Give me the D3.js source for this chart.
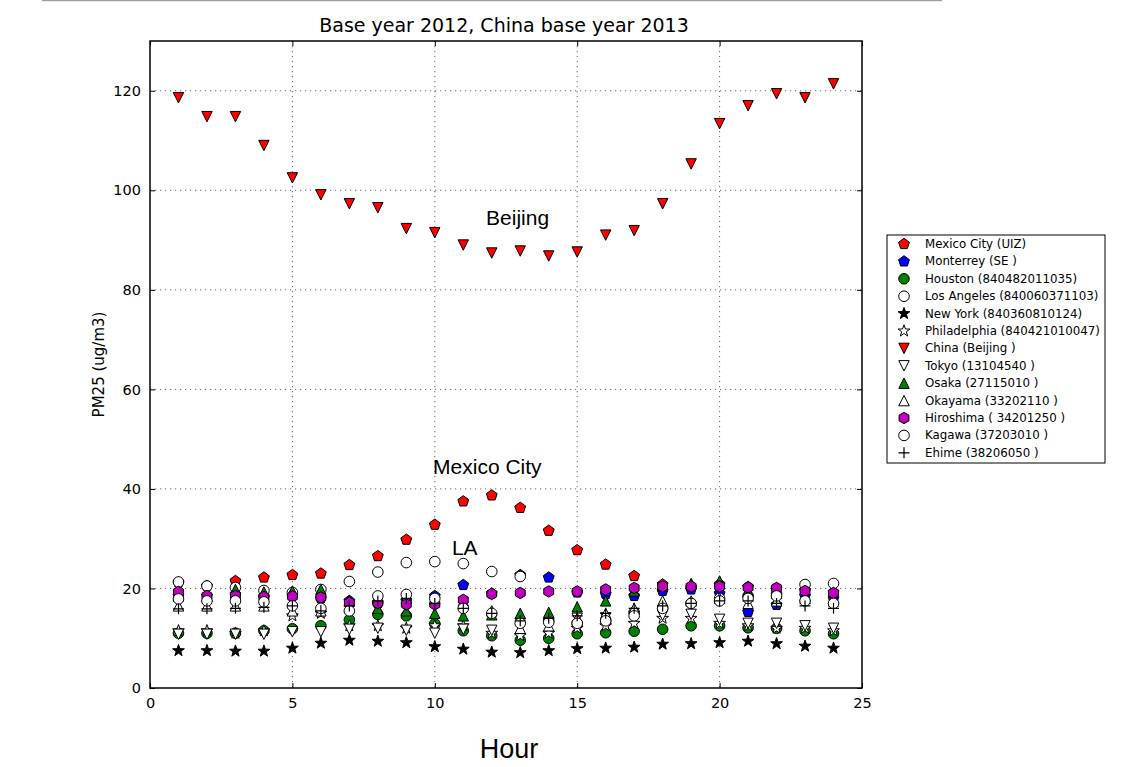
<!DOCTYPE html>
<html>
<head>
<meta charset="utf-8">
<script src="https://cdnjs.cloudflare.com/ajax/libs/d3/7.8.5/d3.min.js"></script>
<style>
  body { margin: 0; background: #fff; }
  svg text { font-family: "DejaVu Sans", sans-serif; fill: #000; }
</style>
</head>
<body>
<svg id="chart" width="1132" height="767"></svg>
<script>
// ---------- data ----------
const hours = [1, 2, 3, 4, 5, 6, 7, 8, 9, 10, 11, 12, 13, 14, 15, 16, 17, 18, 19, 20, 21, 22, 23, 24];

const mexicoCity   = [21.2, 20.5, 21.5, 22.2, 22.7, 23.0, 24.7, 26.5, 29.8, 32.8, 37.5, 38.7, 36.2, 31.6, 27.7, 24.8, 22.5, 20.8, 20.2, 20.8, 20.3, 20.0, 19.6, 19.2];
const monterrey    = [18.5, 18.5, 18.8, 18.3, 18.5, 18.0, 17.5, 17.0, 17.5, 18.5, 20.7, 19.0, 22.7, 22.2, 19.2, 18.9, 18.5, 19.5, 19.8, 19.0, 15.3, 16.7, 18.5, 18.0];
const houston      = [11.0, 11.0, 11.0, 11.5, 11.9, 12.5, 13.7, 14.8, 14.5, 12.9, 11.5, 10.5, 9.6, 10.0, 10.9, 11.1, 11.4, 11.8, 12.5, 12.5, 12.1, 12.0, 11.5, 10.9];
const losAngeles   = [21.3, 20.5, 20.2, 19.6, 19.2, 19.8, 21.4, 23.3, 25.2, 25.4, 25.0, 23.4, 22.4, 13.5, 13.0, 13.5, 15.2, 16.0, 17.0, 18.0, 18.5, 19.0, 20.8, 21.0];
const newYork      = [7.5, 7.5, 7.4, 7.4, 8.0, 9.0, 9.6, 9.4, 9.1, 8.3, 7.8, 7.2, 7.1, 7.5, 7.9, 8.0, 8.2, 8.8, 8.9, 9.1, 9.4, 8.9, 8.4, 8.0];
const philadelphia = [11.5, 11.5, 11.0, 11.5, 14.5, 15.0, 12.5, 12.5, 12.0, 12.5, 12.5, 11.0, 10.5, 11.0, 12.0, 12.5, 13.0, 14.0, 14.0, 13.0, 12.5, 12.0, 12.0, 11.5];
const beijing      = [118.6, 114.8, 114.8, 109.0, 102.5, 99.1, 97.3, 96.5, 92.3, 91.5, 89.0, 87.4, 87.8, 86.8, 87.6, 91.0, 91.9, 97.3, 105.3, 113.4, 117.0, 119.4, 118.6, 121.4];
const tokyo        = [10.8, 10.8, 10.8, 10.8, 11.3, 11.3, 11.8, 12.0, 11.6, 11.0, 11.8, 11.6, 13.0, 13.0, 14.0, 14.1, 14.4, 14.6, 14.8, 13.8, 13.0, 13.0, 12.5, 12.0];
const osaka        = [18.5, 18.5, 19.8, 19.3, 19.5, 19.8, 17.5, 16.0, 15.5, 15.0, 14.5, 14.7, 15.0, 15.2, 16.3, 17.5, 19.5, 20.5, 21.0, 21.5, 19.5, 19.0, 18.5, 18.0];
const okayama      = [16.5, 16.5, 16.5, 16.5, 15.5, 15.5, 17.5, 18.0, 18.0, 17.8, 17.5, 15.5, 12.0, 12.5, 14.0, 15.0, 16.0, 17.5, 17.5, 18.0, 17.0, 17.5, 18.0, 17.5];
const hiroshima    = [19.3, 18.5, 18.5, 18.3, 18.4, 18.2, 17.1, 17.1, 16.8, 16.8, 17.7, 18.9, 19.1, 19.4, 19.4, 19.8, 20.1, 20.4, 20.4, 20.4, 20.2, 20.1, 19.5, 19.1];
const kagawa       = [17.9, 17.5, 17.5, 17.3, 16.5, 16.0, 15.5, 18.5, 18.8, 18.0, 16.0, 15.0, 13.0, 13.2, 13.0, 13.5, 14.5, 16.0, 17.0, 17.5, 18.0, 18.5, 17.5, 17.0];
const ehime        = [15.9, 15.9, 16.0, 16.2, 16.5, 15.5, 16.5, 17.5, 18.0, 17.0, 16.0, 15.0, 13.5, 14.0, 14.5, 15.0, 16.0, 16.5, 17.0, 17.5, 17.5, 17.0, 16.5, 16.0];

const seriesLabels = [
  'Mexico City (UIZ)', 'Monterrey (SE )', 'Houston (840482011035)', 'Los Angeles (840060371103)',
  'New York (840360810124)', 'Philadelphia (840421010047)', 'China (Beijing )', 'Tokyo (13104540 )',
  'Osaka (27115010 )', 'Okayama (33202110 )', 'Hiroshima ( 34201250 )', 'Kagawa (37203010 )', 'Ehime (38206050 )'
];
const seriesValues = [mexicoCity, monterrey, houston, losAngeles, newYork, philadelphia, beijing,
  tokyo, osaka, okayama, hiroshima, kagawa, ehime];

const xTicks = [0, 5, 10, 15, 20, 25];
const yTicks = [0, 20, 40, 60, 80, 100, 120];

const notes = [
  {text: 'Beijing', x: 11.8, y: 93.0},
  {text: 'Mexico City', x: 9.94, y: 42.9},
  {text: 'LA', x: 10.6, y: 26.7}
];

// ---------- style ----------
const markerStyle = [
  {shape: 'pentagon', fill: '#ff0000'},
  {shape: 'pentagon', fill: '#0000ff'},
  {shape: 'circle',   fill: '#008000'},
  {shape: 'circle',   fill: '#ffffff'},
  {shape: 'star',     fill: '#000000'},
  {shape: 'star',     fill: '#ffffff'},
  {shape: 'tridown',  fill: '#ff0000'},
  {shape: 'tridown',  fill: '#ffffff'},
  {shape: 'triup',    fill: '#008000'},
  {shape: 'triup',    fill: '#ffffff'},
  {shape: 'hexagon',  fill: '#bf00bf'},
  {shape: 'circle',   fill: '#ffffff'},
  {shape: 'plus',     fill: 'none'}
];

const margin = {top: 41, right: 270, bottom: 79, left: 150};
const W = 1132, H = 767;
const width = W - margin.left - margin.right;   // 712
const height = H - margin.top - margin.bottom;  // 647

function translate(x, y) {
  return `translate(${x}, ${y})`;
}

function polygon(n, r, rot) {
  const pts = d3.range(n).map(k => {
    const a = (rot + k * 360 / n) * Math.PI / 180;
    return [r * Math.cos(a), r * Math.sin(a)];
  });
  return 'M' + pts.map(p => p.join(',')).join('L') + 'Z';
}

function markerPath(shape) {
  switch (shape) {
    case 'circle': return 'M5.3,0A5.3,5.3 0 1,1 -5.3,0A5.3,5.3 0 1,1 5.3,0Z';
    case 'pentagon': return polygon(5, 5.7, -90);
    case 'hexagon': return polygon(6, 5.7, -90);
    case 'star': {
      const pts = d3.range(10).map(k => {
        const r = k % 2 === 0 ? 6.2 : 2.5;
        const a = (-90 + k * 36) * Math.PI / 180;
        return [r * Math.cos(a), r * Math.sin(a)];
      });
      return 'M' + pts.map(p => p.join(',')).join('L') + 'Z';
    }
    case 'tridown': return 'M0,5.2L-5.2,-5.2L5.2,-5.2Z';
    case 'triup': return 'M0,-5.2L-5.2,5.2L5.2,5.2Z';
    case 'plus': return 'M-5.5,0L5.5,0M0,-5.5L0,5.5';
  }
}

// ---------- chart ----------
const svg = d3.select('#chart');

// thin rule at the very top of the picture
svg.append('line')
  .attr('x1', 42).attr('x2', 942).attr('y1', 0.5).attr('y2', 0.5)
  .attr('stroke', '#a0a0a0').attr('stroke-width', 1.5);

const g = svg.append('g').attr('transform', translate(margin.left, margin.top));

const xScale = d3.scaleLinear().domain([0, 25]).range([0, width]);
const yScale = d3.scaleLinear().domain([0, 130]).range([height, 0]);

// grid
g.append('g').attr('class', 'grid')
  .selectAll('line.gx').data(xTicks.slice(1, -1)).join('line')
    .attr('x1', d => xScale(d)).attr('x2', d => xScale(d))
    .attr('y1', 0).attr('y2', height);
g.select('.grid')
  .selectAll('line.gy').data(yTicks.slice(1)).join('line')
    .attr('x1', 0).attr('x2', width)
    .attr('y1', d => yScale(d)).attr('y2', d => yScale(d));
g.selectAll('.grid line')
  .attr('stroke', '#000').attr('stroke-width', 1)
  .attr('stroke-dasharray', '1.2,3.8').attr('opacity', 0.6);

// axes (ticks inward on all four sides, like matplotlib classic)
const tickLen = 5;
g.append('g').attr('transform', translate(0, height))
  .call(d3.axisBottom(xScale).tickValues(xTicks).tickSize(-tickLen).tickPadding(10).tickFormat(d3.format('d')))
  .call(a => a.select('.domain').remove());
g.append('g')
  .call(d3.axisTop(xScale).tickValues(xTicks).tickSize(-tickLen).tickFormat(''))
  .call(a => a.select('.domain').remove());
g.append('g')
  .call(d3.axisLeft(yScale).tickValues(yTicks).tickSize(-tickLen).tickPadding(9).tickFormat(d3.format('d')))
  .call(a => a.select('.domain').remove());
g.append('g').attr('transform', translate(width, 0))
  .call(d3.axisRight(yScale).tickValues(yTicks).tickSize(-tickLen).tickFormat(''))
  .call(a => a.select('.domain').remove());
g.selectAll('.tick text').style('font-size', '14.5px');
g.selectAll('.tick line').attr('stroke', '#000');

g.append('rect')
  .attr('width', width).attr('height', height)
  .attr('fill', 'none').attr('stroke', '#000').attr('stroke-width', 1.5);

// series
seriesValues.forEach((values, i) => {
  const st = markerStyle[i];
  g.append('g').attr('class', 'series')
    .selectAll('path').data(values).join('path')
      .attr('transform', (v, j) => translate(xScale(hours[j]), yScale(v)))
      .attr('d', markerPath(st.shape))
      .attr('fill', st.fill)
      .attr('stroke', '#000')
      .attr('stroke-width', st.shape === 'plus' ? 1.2 : 1)
      .attr('stroke-linejoin', 'miter');
});

// annotations
g.selectAll('text.note').data(notes).join('text')
  .attr('class', 'note')
  .attr('x', d => xScale(d.x)).attr('y', d => yScale(d.y))
  .style('font-family', '"Liberation Sans", Arial, sans-serif')
  .style('font-size', '21px')
  .text(d => d.text);

// title and axis labels
svg.append('text')
  .attr('x', margin.left + width / 2 - 2).attr('y', 32)
  .attr('text-anchor', 'middle').style('font-size', '19px')
  .text('Base year 2012, China base year 2013');

svg.append('text')
  .attr('transform', translate(104, margin.top + height / 2) + ' rotate(-90)')
  .attr('text-anchor', 'middle').style('font-size', '15px')
  .text('PM25 (ug/m3)');

svg.append('text')
  .attr('x', 509).attr('y', 758)
  .attr('text-anchor', 'middle')
  .style('font-family', '"Liberation Sans", Arial, sans-serif')
  .style('font-size', '27px')
  .text('Hour');

// legend
const legend = svg.append('g').attr('transform', translate(887, 235));
legend.append('rect')
  .attr('width', 218).attr('height', 228)
  .attr('fill', '#fff').attr('stroke', '#000').attr('stroke-width', 1);

const rows = legend.selectAll('g.row').data(seriesLabels).join('g')
  .attr('class', 'row')
  .attr('transform', (d, i) => translate(17, 9 + i * 17.4));
rows.append('path')
  .attr('d', (d, i) => markerPath(markerStyle[i].shape))
  .attr('fill', (d, i) => markerStyle[i].fill)
  .attr('stroke', '#000')
  .attr('stroke-width', (d, i) => markerStyle[i].shape === 'plus' ? 1.2 : 1);
rows.append('text')
  .attr('x', 21).attr('y', 4)
  .style('font-size', '11.8px')
  .text(d => d);
</script>
</body>
</html>
